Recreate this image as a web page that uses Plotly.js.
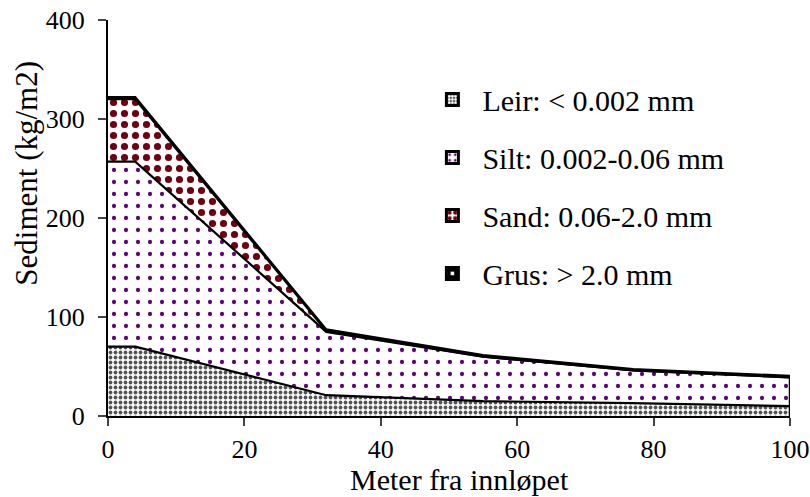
<!DOCTYPE html>
<html>
<head>
<meta charset="utf-8">
<script src="https://cdn.plot.ly/plotly-3.0.1.min.js"></script>
<style>html,body{margin:0;padding:0;background:#fff;}#chart{width:810px;height:497px;}</style>
</head>
<body>
<div id="chart"></div>
<script>
const distance = [0, 4, 32, 55, 77, 100];
const leir = [70, 70, 21, 15, 13, 10];
const silt = [187, 187, 64, 45, 33, 29];
const sand = [63, 63, 1, 0, 0, 0];
const grus = [2, 2, 1.5, 1.5, 1.5, 1.5];
const seriesNames = ['Leir: < 0.002 mm', 'Silt: 0.002-0.06 mm', 'Sand: 0.06-2.0 mm', 'Grus: > 2.0 mm'];
const xTicks = [0, 20, 40, 60, 80, 100];
const yTicks = [0, 100, 200, 300, 400];

const patterns = [
  {shape: '.', fgcolor: '#555555', bgcolor: '#ffffff', size: 5, solidity: 0.45},
  {shape: '.', fgcolor: '#5c0a6e', bgcolor: '#ffffff', size: 12, solidity: 0.1},
  {shape: '.', fgcolor: '#6e0010', bgcolor: '#ffffff', size: 11, solidity: 0.33},
  {shape: '+', fgcolor: '#000000', bgcolor: '#ffffff', size: 6, solidity: 0.6}
];
const legendPatterns = [
  {shape: '.', fgcolor: '#555555', bgcolor: '#ffffff', size: 4, solidity: 0.45},
  {shape: '.', fgcolor: '#5c0a6e', bgcolor: '#ffffff', size: 7, solidity: 0.2},
  {shape: '.', fgcolor: '#6e0010', bgcolor: '#ffffff', size: 7, solidity: 0.45},
  {shape: '+', fgcolor: '#000000', bgcolor: '#ffffff', size: 8, solidity: 0.7}
];
const values = [leir, silt, sand, grus];
const traces = values.map((v, i) => ({
  x: distance, y: v, name: seriesNames[i], type: 'scatter', mode: 'lines',
  stackgroup: 'one', line: {color: '#000', width: 2.2}, showlegend: false,
  fillpattern: patterns[i], fillcolor: '#ffffff'
}));
// legend swatches: zero-height bars on a hidden overlay axis
seriesNames.forEach((n, i) => traces.push({
  type: 'bar', x: [distance[0]], y: [0], name: n, legendgroup: 'g' + i, showlegend: true,
  yaxis: 'y2', hoverinfo: 'skip',
  marker: {color: '#ffffff', pattern: legendPatterns[i], line: {color: '#000', width: 3}}
}));

const lastIdx = distance.length - 1;
const totalEnd = values.reduce((s, v) => s + v[lastIdx], 0);

const layout = {
  width: 810, height: 497,
  margin: {l: 108, r: 20, t: 20, b: 81},
  paper_bgcolor: '#fff', plot_bgcolor: '#fff',
  font: {family: 'Liberation Serif, Times New Roman, serif', color: '#000', size: 26},
  showlegend: true,
  legend: {x: 0.461, y: 0.865, xanchor: 'left', yanchor: 'top', traceorder: 'grouped',
           font: {size: 30}, tracegroupgap: 16, itemwidth: 50, bgcolor: 'rgba(0,0,0,0)'},
  xaxis: {range: [0, 100], tickvals: xTicks, ticks: 'outside', ticklen: 8, tickwidth: 2,
          showline: true, linewidth: 2, linecolor: '#000', showgrid: false, zeroline: false,
          ticklabelstandoff: 1, tickfont: {size: 26}},
  yaxis: {range: [0, 400], tickvals: yTicks, ticks: 'outside', ticklen: 8, tickwidth: 2,
          showline: true, linewidth: 2, linecolor: '#000', showgrid: false, zeroline: false,
          ticklabelstandoff: 8, tickfont: {size: 26}},
  yaxis2: {overlaying: 'y', range: [10, 20], visible: false, fixedrange: true},
  shapes: [{type: 'line', xref: 'x', yref: 'y', x0: distance[lastIdx], x1: distance[lastIdx],
            y0: 0, y1: totalEnd, line: {color: '#000', width: 2.5}}],
  annotations: [
    {text: 'Meter fra innløpet', xref: 'paper', yref: 'paper', x: 0.516, y: -0.2045,
     xanchor: 'center', yanchor: 'bottom', showarrow: false, borderpad: 0, font: {size: 30}},
    {text: 'Sediment (kg/m2)', xref: 'paper', yref: 'paper', x: -0.119, y: 0.614,
     xanchor: 'center', yanchor: 'middle', textangle: -90, showarrow: false, font: {size: 31}}
  ]
};
Plotly.newPlot('chart', traces, layout, {displayModeBar: false, staticPlot: true});
</script>
</body>
</html>
